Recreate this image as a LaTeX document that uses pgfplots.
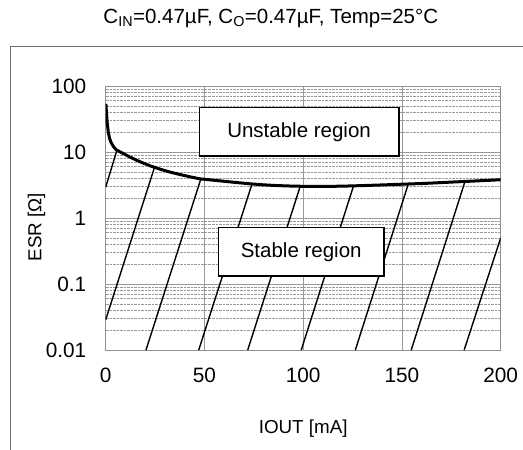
\documentclass[border=0pt]{standalone}
\usepackage{fontspec}
\setmainfont{Liberation Sans}
\usepackage{pgfplots}
\pgfplotsset{compat=1.18}
\definecolor{framegray}{HTML}{707070}
\definecolor{axisgray}{HTML}{909090}
\definecolor{gridgray}{HTML}{999999}
\begin{document}
\fontsize{20.5bp}{24bp}\selectfont
\begin{tikzpicture}
\useasboundingbox (0,0) rectangle (523bp,450bp);
\draw[framegray, line width=1bp] (10bp,0bp) -- (10bp,403.3bp) -- (523bp,403.3bp);
\begin{axis}[
  at={(105.7bp,100bp)}, anchor=south west,
  width=395bp, height=264bp, scale only axis,
  ymode=log, xmin=0, xmax=200, ymin=0.01, ymax=100,
  xtick={0,50,100,150,200}, xticklabels={0,50,100,150,200},
  ytick={0.01,0.1,1,10,100}, yticklabels={0.01,0.1,1,10,100},
  minor ytick={0.02,0.03,0.04,0.05,0.06,0.07,0.08,0.09,
               0.2,0.3,0.4,0.5,0.6,0.7,0.8,0.9,
               2,3,4,5,6,7,8,9,
               20,30,40,50,60,70,80,90},
  grid=both,
  major grid style={gridgray, line width=0.9bp},
  minor grid style={gridgray, densely dotted, line width=0.6bp},
  axis line style={axisgray, line width=0.9bp},
  major tick length=0pt, minor tick length=0pt,
  tick style={draw=none},
  every tick label/.append style={font=\fontsize{20.8bp}{24bp}\selectfont},
  xticklabel style={yshift=-11.2bp},
  yticklabel style={xshift=-12.4bp},
  xlabel={IOUT [mA]},
  ylabel={ESR [\symbol{"03A9}]},
  label style={font=\fontsize{18.8bp}{22bp}\selectfont},
  xlabel style={at={(axis description cs:0.5,-0.296)}, anchor=center},
  ylabel style={at={(axis description cs:-0.175,0.466)}, anchor=center},
  title={C\textsubscript{IN}=0.47µF, C\textsubscript{O}=0.47µF, Temp=25°C},
  title style={at={(axis description cs:0.418,1.2326)}, anchor=center, font=\fontsize{20.5bp}{24bp}\selectfont},
  clip=true,
]
% hatch lines (stable region)
\addplot[black, line width=1.4bp] coordinates {(0,2.93) (5.7,10.7)};
\addplot[black, line width=1.4bp] coordinates {(0,0.0287) (24.7,5.85)};
\addplot[black, line width=1.4bp] coordinates {(20.4,0.01) (48.2,3.93)};
\addplot[black, line width=1.4bp] coordinates {(47.1,0.01) (74.1,3.3)};
\addplot[black, line width=1.4bp] coordinates {(71.9,0.01) (98.5,3.03)};
\addplot[black, line width=1.4bp] coordinates {(99,0.01) (125.5,3.08)};
\addplot[black, line width=1.4bp] coordinates {(126.4,0.01) (153.2,3.27)};
\addplot[black, line width=1.4bp] coordinates {(154.7,0.01) (181.9,3.57)};
\addplot[black, line width=1.4bp] coordinates {(181.5,0.01) (200,0.5)};
% ESR boundary
\addplot[black, line width=3bp, line join=round, line cap=round] coordinates {
 (0.15,52) (0.4,38) (0.8,27) (1.3,20) (2,16) (2.7,14) (4,12) (5.5,10.7)
 (7.24,10.07) (12.3,8.38) (17.4,7.11) (22.4,6.19) (27.5,5.50) (32.5,4.97)
 (37.6,4.56) (42.7,4.21) (47.7,3.92)
 (55,3.73) (60,3.6) (67,3.43) (73,3.3) (80,3.18) (85,3.12) (92,3.06) (100,3.02)
 (108,3.01) (115,3.02) (122,3.05) (130,3.1) (140,3.17) (150,3.25)
 (162,3.35) (175,3.5) (188,3.65) (200,3.8)};
\node[draw=black, fill=white, line width=1.2bp, minimum width=199.7bp, minimum height=48.3bp, inner sep=0pt,
      font=\fontsize{20.5bp}{24bp}\selectfont] at (rel axis cs:0.4895,0.826) {Unstable region};
\node[draw=black, fill=white, line width=1.2bp, minimum width=165.7bp, minimum height=48.3bp, inner sep=0pt,
      font=\fontsize{20.5bp}{24bp}\selectfont] at (rel axis cs:0.495,0.3715) {Stable region};
\end{axis}
\end{tikzpicture}
\end{document}
